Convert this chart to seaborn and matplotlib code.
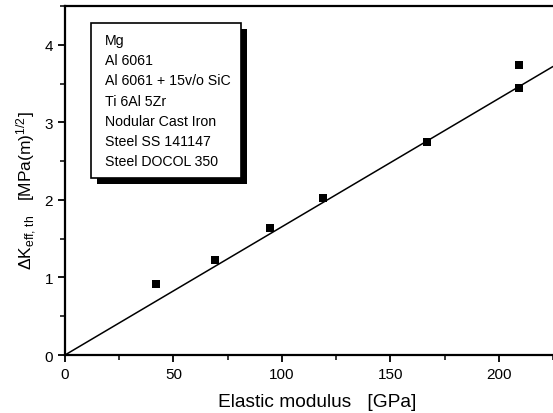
import matplotlib
matplotlib.use("Agg")
import matplotlib.pyplot as plt
import seaborn as sns
import pandas as pd
from matplotlib.lines import Line2D
from matplotlib.patches import Rectangle
from matplotlib.ticker import MultipleLocator

# Data
modulus = [42, 69, 94.5, 119, 167, 209.5, 209.5]
dk_eff = [0.92, 1.23, 1.64, 2.03, 2.74, 3.44, 3.74]
fit_x = [0, 225]
fit_y = [0, 3.72]
materials = ["Mg", "Al 6061", "Al 6061 + 15v/o SiC", "Ti 6Al 5Zr",
             "Nodular Cast Iron", "Steel SS 141147", "Steel DOCOL 350"]
x_ticks = [0, 50, 100, 150, 200]
y_ticks = [0, 1, 2, 3, 4]

sns.set_theme(style="ticks")
plt.rcParams['font.family'] = ['Liberation Sans', 'DejaVu Sans']
plt.rcParams['mathtext.fontset'] = 'custom'
plt.rcParams['mathtext.rm'] = 'Liberation Sans'
plt.rcParams['mathtext.it'] = 'Liberation Sans'
plt.rcParams['text.color'] = 'black'
plt.rcParams['axes.labelcolor'] = 'black'
plt.rcParams['xtick.color'] = 'black'
plt.rcParams['ytick.color'] = 'black'

fig = plt.figure(figsize=(5.53, 4.14), dpi=100)
ax = fig.add_axes([65/553, 1-356/414, (553-65)/553, (356-7)/414])

pts = pd.DataFrame({"E": modulus, "dK": dk_eff})
fit = pd.DataFrame({"E": fit_x, "dK": fit_y})
sns.lineplot(data=fit, x="E", y="dK", color="black", linewidth=1.1, ax=ax)
sns.scatterplot(data=pts, x="E", y="dK", marker="s", s=30, color="black",
                edgecolor="black", linewidth=0, ax=ax, zorder=3)

ax.set_xlim(0, 225)
ax.set_ylim(0, 4.5)
ax.set_xticks(x_ticks)
ax.set_yticks(y_ticks)
ax.xaxis.set_minor_locator(MultipleLocator(25))
ax.yaxis.set_minor_locator(MultipleLocator(0.5))
ax.tick_params(which='major', direction='out', length=5, width=1.3, labelsize=11, colors='black')
ax.tick_params(which='minor', direction='out', length=3.5, width=1.1, colors='black')
for s in ['left', 'bottom', 'top']:
    ax.spines[s].set_linewidth(1.6)
    ax.spines[s].set_color('black')
ax.spines['right'].set_visible(False)

ax.set_xlabel("Elastic modulus   [GPa]", fontsize=13.8, color='black')
ax.xaxis.set_label_coords(0.516, -0.108)
ax.set_ylabel(r"$\Delta$K$_{\rm eff,\,th}$   [MPa(m)$^{1/2}$]", fontsize=12.5, color='black')
ax.yaxis.set_label_coords(-0.053, 0.475)

handles = [Line2D([], [], linestyle='none') for _ in materials]
leg = ax.legend(handles, materials, loc='upper left', bbox_to_anchor=(0.053, 0.951),
                borderaxespad=0, fancybox=False, frameon=True, handlelength=0,
                handletextpad=0.25, fontsize=10.2, labelspacing=0.43,
                borderpad=0.72, framealpha=1)
for t in leg.get_texts():
    t.set_color('black')
leg.get_frame().set_edgecolor('black')
leg.get_frame().set_linewidth(1.2)
leg.set_zorder(6)

fig.canvas.draw()
bb = leg.get_window_extent().transformed(ax.transAxes.inverted())
ox, oy = 6/488, -6/349
ax.add_patch(Rectangle((bb.x0 + ox, bb.y0 + oy), bb.width, bb.height,
                       transform=ax.transAxes, facecolor='black', edgecolor='none',
                       zorder=5, clip_on=False))

fig.savefig("out.png", dpi=100)
